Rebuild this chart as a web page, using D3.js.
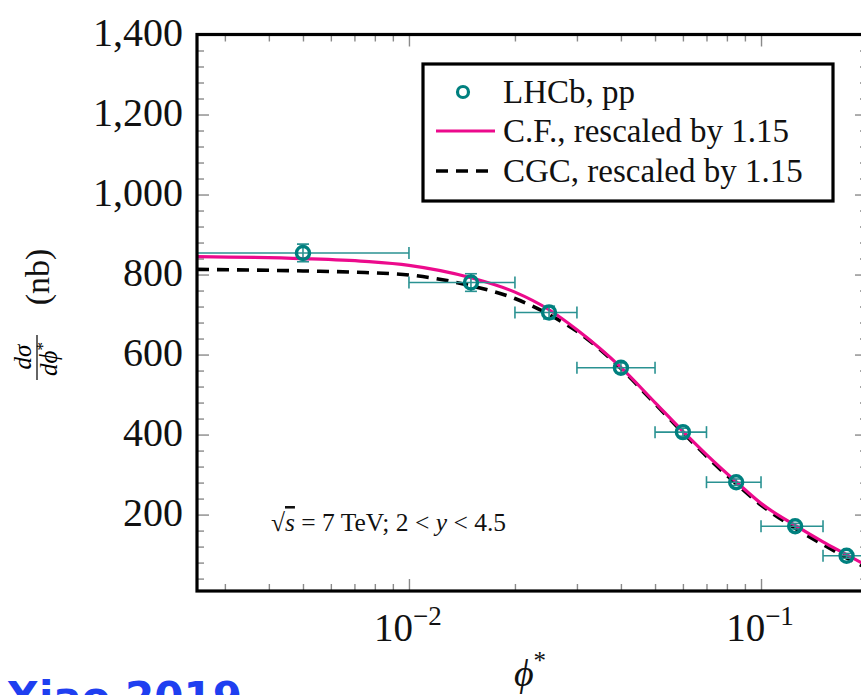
<!DOCTYPE html>
<html>
<head>
<meta charset="utf-8">
<script src="https://cdn.jsdelivr.net/npm/d3@7"></script>
<style>
  html, body { margin: 0; padding: 0; background: #fff; overflow: hidden; }
  svg { display: block; font-family: "Liberation Serif", "DejaVu Serif", serif; }
</style>
</head>
<body>
<svg id="drawing_region"></svg>
<script>
// LHCb pp data: bin centre, bin edges, dsigma/dphi* (nb), error
const lhcbPhi   = [0.005, 0.015, 0.025, 0.04, 0.06, 0.085, 0.125, 0.175];
const lhcbPhiLo = [0.001, 0.01, 0.02, 0.03, 0.05, 0.07, 0.1, 0.15];
const lhcbPhiHi = [0.01, 0.02, 0.03, 0.05, 0.07, 0.1, 0.15, 0.2];
const lhcbSigma = [854, 780, 705, 567, 406, 281, 171, 97];
const lhcbErr   = [22, 22, 16, 12, 10, 8, 7, 6];

// theory curves (rescaled by 1.15)
const curvePhi = [0.0025, 0.005, 0.0075, 0.01, 0.015, 0.02, 0.025, 0.03, 0.04, 0.05, 0.06, 0.07, 0.085, 0.1, 0.125, 0.15, 0.175, 0.2];
const cfSigma  = [845, 840, 833, 823, 792, 756, 712, 662, 568, 480, 408, 350, 282, 228, 173, 132, 100, 72];
const cgcSigma = [813, 809, 805, 799, 772, 740, 700, 658, 565, 477, 405, 346, 277, 224, 166, 125, 92, 66];

// ticks
const yMajor = [200, 400, 600, 800, 1000, 1200, 1400];
const yMinor = d3.range(40, 1400, 40).filter(v => v % 200 !== 0);
const xMajor = [0.01, 0.1];
const xMinor = [0.003, 0.004, 0.005, 0.006, 0.007, 0.008, 0.009,
                0.02, 0.03, 0.04, 0.05, 0.06, 0.07, 0.08, 0.09, 0.2];
const xMajorExp = ['\u22122', '\u22121'];

const legendLabels = ['LHCb, pp', 'C.F., rescaled by 1.15', 'CGC, rescaled by 1.15'];

class PhiStarChart {

    constructor( config ) {
        this.config = {
            parent: config.parent,
            width: config.width || 861,
            height: config.height || 695,
            plot: config.plot
        };
        this.init();
    }

    init() {
        let self = this;
        const p = self.config.plot;

        self.svg = d3.select( self.config.parent )
            .attr('width', self.config.width)
            .attr('height', self.config.height);

        self.x = d3.scaleLog()
            .domain([0.0025, 0.2])
            .range([p.left, p.right]);

        self.y = d3.scaleLinear()
            .domain([9, 1400])
            .range([p.bottom, p.top]);

        self.svg.append('clipPath').attr('id', 'clip')
            .append('rect')
            .attr('x', p.left).attr('y', p.top)
            .attr('width', p.right - p.left).attr('height', p.bottom - p.top);
    }

    render() {
        let self = this;
        const p = self.config.plot;
        const x = self.x, y = self.y;
        const teal = '#00807f', barTeal = '#2a9292', pink = '#ec0a8c';

        // ticks, all inward, gray
        const tickStyle = g => {
            g.select('.domain').remove();
            g.selectAll('.tick line').attr('stroke', '#8a8a8a').attr('stroke-width', 1.4);
        };
        const addAxis = (axis, tx, ty) => self.svg.append('g')
            .attr('transform', `translate(${tx},${ty})`)
            .call(axis).call(tickStyle);

        addAxis(d3.axisLeft(y).tickValues(yMinor).tickSize(-7).tickFormat(''), p.left, 0);
        addAxis(d3.axisRight(y).tickValues(yMinor).tickSize(-7).tickFormat(''), p.right, 0);
        addAxis(d3.axisRight(y).tickValues(yMajor).tickSize(-12).tickFormat(''), p.right, 0);
        addAxis(d3.axisBottom(x).tickValues(xMinor).tickSize(-7).tickFormat(''), 0, p.bottom);
        addAxis(d3.axisTop(x).tickValues(xMinor).tickSize(-7).tickFormat(''), 0, p.top);
        addAxis(d3.axisBottom(x).tickValues(xMajor).tickSize(-12).tickFormat(''), 0, p.bottom);
        addAxis(d3.axisTop(x).tickValues(xMajor).tickSize(-12).tickFormat(''), 0, p.top);

        const yAxis = addAxis(d3.axisLeft(y).tickValues(yMajor).tickSize(-12).tickPadding(14)
            .tickFormat(d3.format(',')), p.left, 0);
        yAxis.selectAll('text')
            .attr('font-size', '40px')
            .attr('font-family', '"Liberation Serif", serif')
            .attr('fill', '#111')
            .attr('dy', '0.27em');

        // x tick labels 10^{-n}
        const xl = self.svg.append('g');
        xMajor.forEach((v, i) => {
            const t = xl.append('text')
                .attr('x', x(v) - 1).attr('y', 641)
                .attr('text-anchor', 'middle')
                .attr('font-size', '39px').attr('fill', '#111');
            t.append('tspan').text('10');
            t.append('tspan').attr('font-size', '27px').attr('dy', -16).text(xMajorExp[i]);
        });

        // curves
        const plot = self.svg.append('g').attr('clip-path', 'url(#clip)');
        const line = d3.line()
            .x(d => x(d[0])).y(d => y(d[1]))
            .curve(d3.curveMonotoneX);

        plot.append('path')
            .attr('d', line(curvePhi.map((v, i) => [v, cgcSigma[i]])))
            .attr('fill', 'none').attr('stroke', '#000')
            .attr('stroke-width', 3.6).attr('stroke-dasharray', '12,8');

        plot.append('path')
            .attr('d', line(curvePhi.map((v, i) => [v, cfSigma[i]])))
            .attr('fill', 'none').attr('stroke', pink)
            .attr('stroke-width', 3.2);

        // data points with error bars
        const pts = lhcbPhi.map((v, i) => ({
            phi: v, lo: lhcbPhiLo[i], hi: lhcbPhiHi[i], s: lhcbSigma[i], e: lhcbErr[i]
        }));
        const eb = plot.append('g').attr('stroke', barTeal).attr('stroke-width', 1.6);
        pts.forEach(d => {
            const cy = y(d.s);
            eb.append('line').attr('x1', x(d.lo)).attr('x2', x(d.hi)).attr('y1', cy).attr('y2', cy);
            eb.append('line').attr('x1', x(d.lo)).attr('x2', x(d.lo)).attr('y1', cy - 6).attr('y2', cy + 6);
            eb.append('line').attr('x1', x(d.hi)).attr('x2', x(d.hi)).attr('y1', cy - 6).attr('y2', cy + 6);
            eb.append('line').attr('x1', x(d.phi)).attr('x2', x(d.phi)).attr('y1', y(d.s - d.e)).attr('y2', y(d.s + d.e));
            eb.append('line').attr('x1', x(d.phi) - 6).attr('x2', x(d.phi) + 6).attr('y1', y(d.s - d.e)).attr('y2', y(d.s - d.e));
            eb.append('line').attr('x1', x(d.phi) - 6).attr('x2', x(d.phi) + 6).attr('y1', y(d.s + d.e)).attr('y2', y(d.s + d.e));
        });
        plot.selectAll('circle.pt')
            .data(pts)
            .enter()
            .append('circle')
            .attr('class', 'pt')
            .attr('cx', d => x(d.phi))
            .attr('cy', d => y(d.s))
            .attr('r', 6.5)
            .attr('fill', 'none')
            .attr('stroke', teal)
            .attr('stroke-width', 3.4);

        // frame
        self.svg.append('rect')
            .attr('x', p.left).attr('y', p.top)
            .attr('width', p.right - p.left).attr('height', p.bottom - p.top)
            .attr('fill', 'none').attr('stroke', '#000').attr('stroke-width', 3.2);

        // annotation
        const ann = self.svg.append('text')
            .attr('x', 271).attr('y', 531)
            .attr('font-size', '25.5px').attr('fill', '#111');
        ann.append('tspan').text('\u221A');
        ann.append('tspan').attr('font-style', 'italic')
            .style('text-decoration', 'overline').text('s');
        ann.append('tspan').text(' = 7 TeV; 2 < ');
        ann.append('tspan').attr('font-style', 'italic').text('y');
        ann.append('tspan').text(' < 4.5');

        // legend
        const lg = self.svg.append('g');
        lg.append('rect')
            .attr('x', 423).attr('y', 64).attr('width', 410).attr('height', 137)
            .attr('fill', '#fff').attr('stroke', '#000').attr('stroke-width', 3.2);
        const rows = [92, 131, 171];
        lg.append('circle').attr('cx', 463).attr('cy', rows[0]).attr('r', 5.5)
            .attr('fill', 'none').attr('stroke', teal).attr('stroke-width', 3.2);
        lg.append('line').attr('x1', 436).attr('x2', 495).attr('y1', rows[1]).attr('y2', rows[1])
            .attr('stroke', pink).attr('stroke-width', 3.2);
        lg.append('line').attr('x1', 436).attr('x2', 495).attr('y1', rows[2]).attr('y2', rows[2])
            .attr('stroke', '#000').attr('stroke-width', 3.6).attr('stroke-dasharray', '12,8');
        lg.selectAll('text.lab')
            .data(legendLabels)
            .enter()
            .append('text')
            .attr('class', 'lab')
            .attr('x', 503)
            .attr('y', (d, i) => rows[i])
            .attr('dy', '0.33em')
            .attr('font-size', '33px')
            .attr('fill', '#111')
            .text(d => d);

        // y label: d sigma / d phi* (nb)
        const yl = self.svg.append('g')
            .attr('transform', 'translate(37,315) rotate(-90)');
        yl.append('text').attr('x', -42).attr('y', -6).attr('text-anchor', 'middle')
            .attr('font-size', '25px').attr('font-style', 'italic').text('d\u03C3');
        yl.append('line').attr('x1', -65).attr('x2', -20).attr('y1', 0).attr('y2', 0)
            .attr('stroke', '#111').attr('stroke-width', 1.3);
        const den = yl.append('text').attr('x', -44).attr('y', 20).attr('text-anchor', 'middle')
            .attr('font-size', '25px').attr('font-style', 'italic');
        den.append('tspan').text('d\u03D5');
        den.append('tspan').attr('font-size', '17px').attr('dy', -9).attr('font-style', 'normal').text('*');
        yl.append('text').attr('x', 38).attr('y', 12).attr('text-anchor', 'middle')
            .attr('font-size', '34px').attr('fill', '#111').text('(nb)');

        // x label
        const xt = self.svg.append('text')
            .attr('x', 530).attr('y', 686).attr('text-anchor', 'middle')
            .attr('font-size', '38px').attr('fill', '#111');
        xt.append('tspan').attr('font-style', 'italic').text('\u03D5');
        xt.append('tspan').attr('font-size', '25px').attr('dy', -17).text('*');

        // blue caption at the bottom edge (cut off as in the original)
        self.svg.append('text')
            .attr('x', 242).attr('y', 712).attr('text-anchor', 'end')
            .attr('font-family', '"DejaVu Sans", sans-serif')
            .attr('font-weight', 'bold').attr('font-size', '42px')
            .attr('fill', '#1f3ff0')
            .text('Xiao 2019');
    }
}

const chart = new PhiStarChart({
    parent: '#drawing_region',
    width: 861,
    height: 695,
    plot: {left: 197, right: 867, top: 34.5, bottom: 591}
});
chart.render();
</script>
</body>
</html>
